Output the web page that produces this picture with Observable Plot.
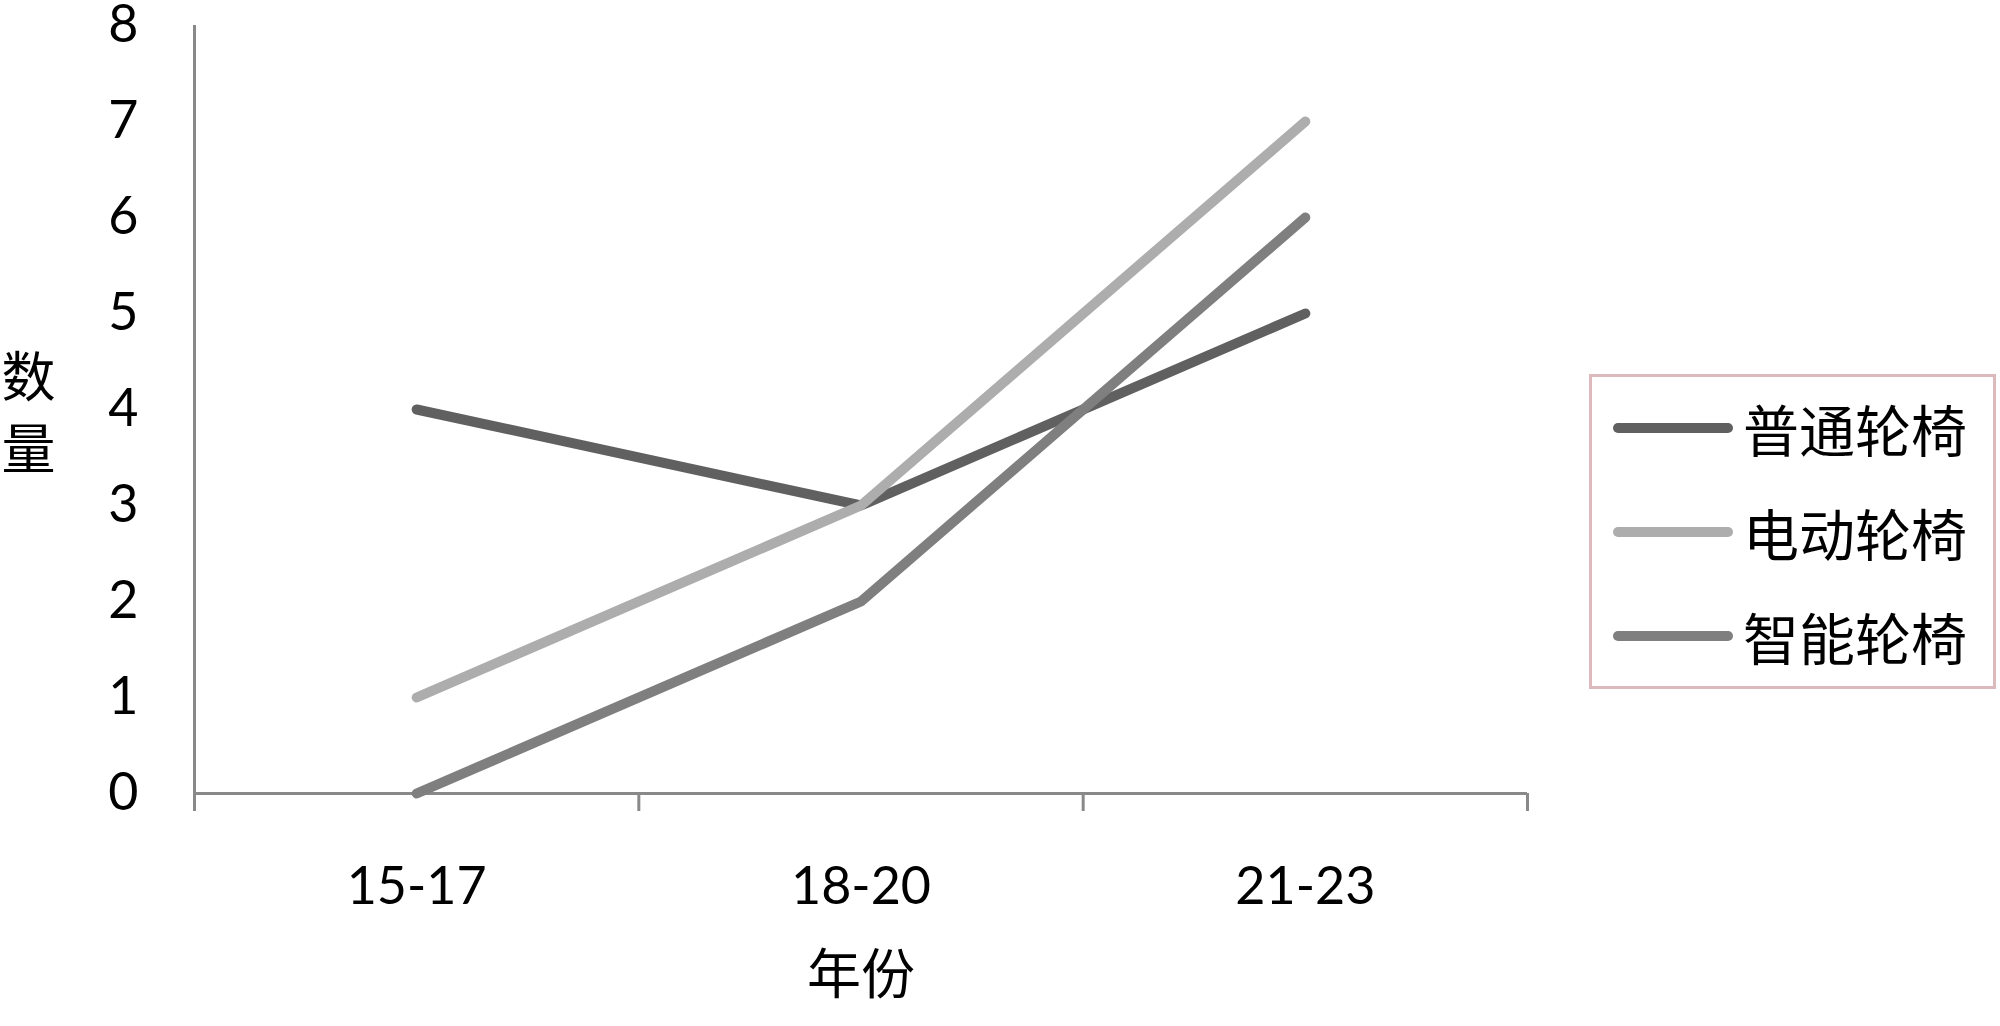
<!DOCTYPE html>
<html><head><meta charset="utf-8">
<script src="https://cdn.jsdelivr.net/npm/d3@7"></script>
<script src="https://cdn.jsdelivr.net/npm/@observablehq/plot@0.6"></script>
<style>
body{margin:0;background:#fff;}
#wrap{position:relative;width:2000px;height:1026px;background:#fff;}
#legend{position:absolute;left:1589px;top:374px;width:401px;height:309px;border:3px solid #dcb9bc;background:#fff;}
.item{position:absolute;left:21px;height:60px;display:flex;align-items:center;}
.item svg{display:block;}
.item span{font-family:"Noto Sans CJK SC";font-size:56px;margin-left:10px;line-height:1;color:#000;}
</style></head><body><div id="wrap"><div id="legend"></div></div>
<script>
const categories = ["15-17", "18-20", "21-23"];
const seriesNames = ["普通轮椅", "电动轮椅", "智能轮椅"];
const ordinary = [4, 3, 5];
const electric = [1, 3, 7];
const smart = [0, 2, 6];
const yTicks = [0, 1, 2, 3, 4, 5, 6, 7, 8];
const colors = ["#606060", "#adadad", "#7f7f7f"];
const xTitle = "年份";
const yTitleChars = ["数", "量"];

const seriesValues = [ordinary, electric, smart];
const rows = [];
seriesNames.forEach((s, k) => {
  seriesValues[k].forEach((v, i) => rows.push({series: s, x: i + 0.5, value: v}));
});

const axisColor = "#898989";
const chart = Plot.plot({
  width: 2000, height: 1026,
  marginLeft: 194, marginRight: 473, marginTop: 25, marginBottom: 233,
  style: {fontFamily: "Lato", fontSize: "52px", color: "#000", background: "transparent"},
  x: {type: "linear", domain: [0, categories.length]},
  y: {domain: [0, 8]},
  color: {domain: seriesNames, range: colors},
  marks: [
    Plot.axisY({ticks: yTicks, tickSize: 0, tickPadding: 56, label: null, fontSize: 52}),
    Plot.axisX({ticks: d3.range(categories.length + 1), tickSize: 18, stroke: axisColor, strokeWidth: 3, tickFormat: () => "", label: null}),
    Plot.axisX({ticks: categories.map((_, i) => i + 0.5), tickSize: 0, tickPadding: 74, fontSize: 52, tickFormat: v => categories[Math.floor(v)], label: null}),
    Plot.ruleY([0], {stroke: axisColor, strokeWidth: 3}),
    Plot.ruleX([0], {stroke: axisColor, strokeWidth: 3}),
    Plot.line(rows, {x: "x", y: "value", z: "series", stroke: "series", strokeWidth: 10, strokeLinecap: "round", strokeLinejoin: "miter"}),
    Plot.text([xTitle], {frameAnchor: "bottom", text: d => d, dy: 200, fontFamily: "Noto Sans CJK SC", fontSize: 54, fill: "#000"}),
    Plot.text([yTitleChars[0]], {frameAnchor: "left", text: d => d, dx: -166, dy: -30, fontFamily: "Noto Sans CJK SC", fontSize: 54, textAnchor: "middle", fill: "#000"}),
    Plot.text([yTitleChars[1]], {frameAnchor: "left", text: d => d, dx: -166, dy: 42, fontFamily: "Noto Sans CJK SC", fontSize: 54, textAnchor: "middle", fill: "#000"})
  ]
});
const wrap = document.getElementById("wrap");
wrap.insertBefore(chart, wrap.firstChild);

const legend = document.getElementById("legend");
const tops = [21, 125, 229];
seriesNames.forEach((s, k) => {
  const item = document.createElement("div");
  item.className = "item";
  item.style.top = tops[k] + "px";
  item.innerHTML = `<svg width="120" height="20"><line x1="5" y1="10" x2="115" y2="10" stroke="${colors[k]}" stroke-width="10" stroke-linecap="round"/></svg><span>${s}</span>`;
  legend.appendChild(item);
});
</script></body></html>
